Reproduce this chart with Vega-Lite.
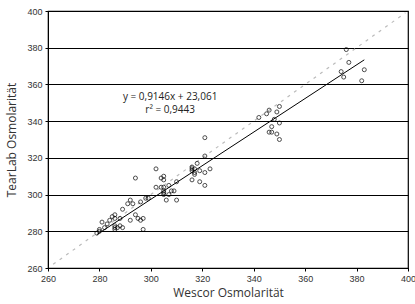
{
  "$schema": "https://vega.github.io/schema/vega-lite/v6.json",
  "width": 360,
  "height": 257,
  "autosize": {"type": "none"},
  "padding": {"left": 48, "top": 11, "right": 7, "bottom": 36},
  "background": "white",
  "config": {
    "view": {"stroke": "black", "strokeWidth": 1.2},
    "axis": {"labelFont": "Liberation Sans", "titleFont": "Open Sans", "labelFontSize": 9, "labelColor": "#333", "titleColor": "#333", "titleFontSize": 12, "titleFontWeight": "normal", "domainColor": "black", "tickColor": "black", "tickSize": 3, "labelOverlap": false, "labelFlush": false, "labelBound": false}
  },
  "datasets": {
    "pts": [
      {"w": 376, "t": 379}, {"w": 377, "t": 372}, {"w": 374, "t": 367}, {"w": 375, "t": 364}, {"w": 383, "t": 368}, {"w": 382, "t": 362},
      {"w": 342, "t": 342}, {"w": 345, "t": 344}, {"w": 346, "t": 346}, {"w": 349, "t": 345}, {"w": 350, "t": 348}, {"w": 348, "t": 341},
      {"w": 347, "t": 337}, {"w": 350, "t": 339}, {"w": 346, "t": 334}, {"w": 347, "t": 334}, {"w": 349, "t": 333}, {"w": 350, "t": 330},
      {"w": 321, "t": 331}, {"w": 321, "t": 321}, {"w": 323, "t": 314}, {"w": 321, "t": 312}, {"w": 321, "t": 305}, {"w": 318, "t": 317},
      {"w": 319, "t": 313}, {"w": 319, "t": 307}, {"w": 316, "t": 308}, {"w": 316, "t": 315}, {"w": 316, "t": 313}, {"w": 317, "t": 312},
      {"w": 317, "t": 311}, {"w": 317, "t": 314}, {"w": 316, "t": 314},
      {"w": 302, "t": 314}, {"w": 302, "t": 304}, {"w": 304, "t": 309}, {"w": 305, "t": 310}, {"w": 305, "t": 308}, {"w": 304, "t": 304},
      {"w": 305, "t": 304}, {"w": 305, "t": 302}, {"w": 305, "t": 301}, {"w": 305, "t": 300}, {"w": 306, "t": 297}, {"w": 307, "t": 300},
      {"w": 307, "t": 305}, {"w": 308, "t": 302}, {"w": 309, "t": 302}, {"w": 310, "t": 307}, {"w": 310, "t": 297},
      {"w": 294, "t": 309}, {"w": 299, "t": 298}, {"w": 298, "t": 298}, {"w": 296, "t": 296}, {"w": 292, "t": 297}, {"w": 291, "t": 295},
      {"w": 293, "t": 295}, {"w": 289, "t": 292}, {"w": 292, "t": 286}, {"w": 294, "t": 289}, {"w": 295, "t": 287}, {"w": 296, "t": 286},
      {"w": 297, "t": 287}, {"w": 297, "t": 281},
      {"w": 279, "t": 279}, {"w": 280, "t": 281}, {"w": 280, "t": 280}, {"w": 281, "t": 285}, {"w": 282, "t": 282}, {"w": 283, "t": 284},
      {"w": 284, "t": 286}, {"w": 285, "t": 288}, {"w": 286, "t": 289}, {"w": 286, "t": 287}, {"w": 286, "t": 283}, {"w": 286, "t": 282},
      {"w": 286, "t": 281}, {"w": 287, "t": 282}, {"w": 288, "t": 287}, {"w": 288, "t": 283}, {"w": 289, "t": 282}
    ],
    "fit": [{"w": 279, "t": 278.2}, {"w": 383, "t": 373.4}],
    "diag": [{"w": 262, "t": 262}, {"w": 399, "t": 399}],
    "labels": [
      {"w": 307.5, "t": 353, "txt": "y = 0,9146x + 23,061"},
      {"w": 307.5, "t": 346, "txt": "r² = 0,9443"}
    ]
  },
  "layer": [
    {
      "data": {"name": "diag"},
      "mark": {"type": "line", "color": "#bbbbbb", "strokeDash": [3, 5], "strokeWidth": 1.2},
      "encoding": {
        "x": {"field": "w", "type": "quantitative", "scale": {"domain": [260, 400], "nice": false},
          "axis": {"title": "Wescor Osmolarität", "values": [260, 280, 300, 320, 340, 360, 380, 400], "tickCount": 10, "grid": false, "labelPadding": 3, "titlePadding": 4}},
        "y": {"field": "t", "type": "quantitative", "scale": {"domain": [260, 400], "nice": false},
          "axis": {"title": "TearLab Osmolarität", "values": [260, 280, 300, 320, 340, 360, 380, 400], "tickCount": 10, "grid": true, "gridColor": "black", "gridWidth": 1, "gridOpacity": 1, "labelPadding": 3, "titlePadding": 8}}
      }
    },
    {
      "data": {"name": "fit"},
      "mark": {"type": "line", "color": "black", "strokeWidth": 1},
      "encoding": {
        "x": {"field": "w", "type": "quantitative"},
        "y": {"field": "t", "type": "quantitative"}
      }
    },
    {
      "data": {"name": "pts"},
      "mark": {"type": "point", "shape": "circle", "filled": false, "color": "black", "size": 16, "strokeWidth": 1},
      "encoding": {
        "x": {"field": "w", "type": "quantitative"},
        "y": {"field": "t", "type": "quantitative"}
      }
    },
    {
      "data": {"name": "labels"},
      "mark": {"type": "text", "font": "Open Sans", "fontSize": 10, "color": "#222", "align": "center", "baseline": "middle"},
      "encoding": {
        "x": {"field": "w", "type": "quantitative"},
        "y": {"field": "t", "type": "quantitative"},
        "text": {"field": "txt"}
      }
    }
  ]
}
